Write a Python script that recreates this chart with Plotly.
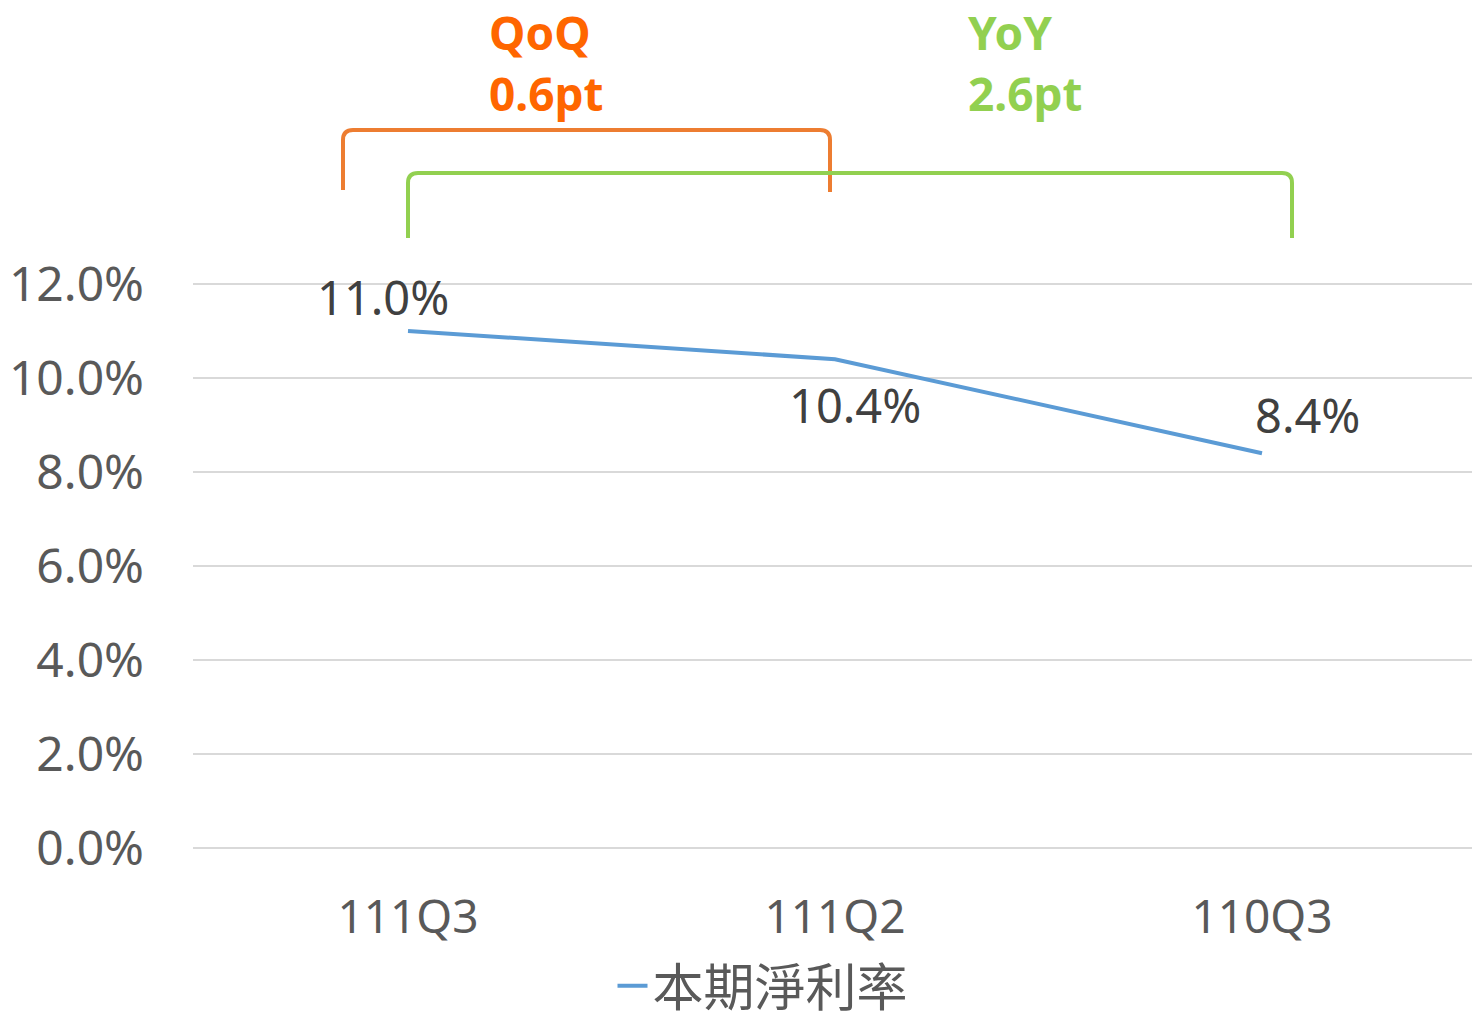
import plotly.graph_objects as go

categories = ["111Q3", "111Q2", "110Q3"]
net_margin = [0.110, 0.104, 0.084]
label_texts = ["11.0%", "10.4%", "8.4%"]
series_name = "本期淨利率"
y_ticks = [0, 0.02, 0.04, 0.06, 0.08, 0.10, 0.12]
y_tick_labels = ["0.0%", "2.0%", "4.0%", "6.0%", "8.0%", "10.0%", "12.0%"]

W, H = 1472, 1026
# plot area in pixel coordinates
X_L, X_R, Y_T, Y_B = 193, 1472, 282, 850
ML, MR, MT, MB = X_L, W - X_R, Y_T, H - Y_B
PW, PH = X_R - X_L, Y_B - Y_T

def px_x(p):
    return (p - X_L) / PW

def px_y(p):
    return (Y_B - p) / PH

# y: 0 at px 848, 0.12 at px 284
per_px = 0.12 / (848 - 284)
y_range = [-(Y_B - 848) * per_px, 0.12 + (284 - Y_T) * per_px]

FONT = "Noto Sans"
fig = go.Figure()
fig.add_trace(go.Scatter(
    x=categories, y=net_margin, mode="lines", name=series_name,
    line=dict(color="#5B9BD5", width=4),
))

# data labels
offsets = [(-25, 34), (20, -46), (45, 38)]
for c, v, t, (dx, dy) in zip(categories, net_margin, label_texts, offsets):
    fig.add_annotation(x=c, y=v, xref="x", yref="y", text=t, showarrow=False,
                       xshift=dx, yshift=dy,
                       font=dict(family=FONT, size=47, color="#404040"))

# header texts
heads = [("<b>QoQ</b>", 540, 32, "#FF6600"), ("<b>0.6pt</b>", 546, 93, "#FF6600"),
         ("<b>YoY</b>", 1010, 32, "#92D050"), ("<b>2.6pt</b>", 1025, 93, "#92D050")]
for t, x, y, col in heads:
    fig.add_annotation(x=px_x(x), y=px_y(y), xref="paper", yref="paper", text=t,
                       showarrow=False, xanchor="center", yanchor="middle",
                       borderpad=0,
                       font=dict(family=FONT, size=46, color=col))

def bracket(x0, x1, ytop, yb0, yb1, r=10):
    return (f"M {px_x(x0)},{px_y(yb0)} L {px_x(x0)},{px_y(ytop + r)} "
            f"Q {px_x(x0)},{px_y(ytop)} {px_x(x0 + r)},{px_y(ytop)} "
            f"L {px_x(x1 - r)},{px_y(ytop)} "
            f"Q {px_x(x1)},{px_y(ytop)} {px_x(x1)},{px_y(ytop + r)} "
            f"L {px_x(x1)},{px_y(yb1)}")

fig.add_shape(type="path", xref="paper", yref="paper",
              path=bracket(343, 830, 130, 190, 192),
              line=dict(color="#ED7D31", width=4))
fig.add_shape(type="path", xref="paper", yref="paper",
              path=bracket(408, 1292, 173, 238, 238),
              line=dict(color="#92D050", width=4))

fig.update_layout(
    width=W, height=H,
    margin=dict(l=ML, r=MR, t=MT, b=MB, pad=0, autoexpand=False),
    plot_bgcolor="white", paper_bgcolor="white",
    showlegend=True,
    legend=dict(orientation="h", x=px_x(763), y=px_y(1026), xanchor="center",
                yanchor="bottom",
                font=dict(family="Noto Sans CJK TC", size=51, color="#595959")),
    xaxis=dict(type="category", range=[-0.5035, 2.4918], showgrid=False,
               showline=False, zeroline=False, ticks="", automargin=False,
               ticklabelstandoff=36,
               tickfont=dict(family=FONT, size=46, color="#595959")),
    yaxis=dict(range=y_range, tickvals=y_ticks, ticktext=y_tick_labels,
               showgrid=True, gridcolor="#D9D9D9", gridwidth=2,
               zeroline=False, showline=False, ticks="", automargin=False,
               ticklabelstandoff=48,
               tickfont=dict(family=FONT, size=48, color="#595959")),
)

fig.write_html("out.html", config={"displayModeBar": False},
               post_script="document.body.style.margin='0';document.body.style.overflow='hidden';")
